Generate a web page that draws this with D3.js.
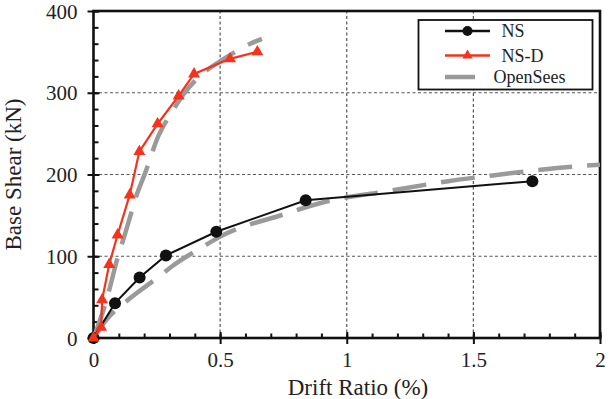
<!DOCTYPE html>
<html>
<head>
<meta charset="utf-8">
<script src="https://cdn.jsdelivr.net/npm/d3@7/dist/d3.min.js"></script>
<style>
  html, body { margin: 0; padding: 0; background: #fff; }
  svg { display: block; }
  svg text { font-family: "Liberation Serif", "Times New Roman", serif !important; fill: #222; }
</style>
</head>
<body>
<svg id="chart" width="613" height="399"></svg>
<script>
// ---- Data ----
const nsDrift = [0, 0.085, 0.182, 0.286, 0.485, 0.838, 1.733];
const nsShear = [0, 42.6, 74, 101, 130, 168.5, 191.8];

const nsdDrift = [0, 0.03, 0.034, 0.062, 0.095, 0.143, 0.181, 0.253, 0.336, 0.397, 0.539, 0.647];
const nsdShear = [0, 13, 46.6, 90, 126, 175, 228, 262, 296, 323, 341.5, 350];

const osNsDrift = [0, 0.05, 0.138, 0.256, 0.309, 0.434, 0.5, 0.749, 0.908, 1.159, 1.4, 1.607, 1.83, 2.0];
const osNsShear = [0, 22, 47, 74.5, 87.5, 112, 124, 151, 166, 179.5, 191.8, 200, 208, 212];

const osNsdDrift = [0, 0.05, 0.097, 0.126, 0.147, 0.164, 0.204, 0.256, 0.309, 0.355, 0.408, 0.513, 0.619, 0.665];
const osNsdShear = [0, 45, 100, 129, 151, 169, 202, 247, 276, 298, 317, 341, 360, 366];

const xTicks = [0, 0.5, 1, 1.5, 2];
const xTickLabels = ["0", "0.5", "1", "1.5", "2"];
const yTicks = [0, 100, 200, 300, 400];
const yTickLabels = ["0", "100", "200", "300", "400"];
const legendLabels = ["NS", "NS-D", "OpenSees"];

// ---- Layout ----
const svg = d3.select("#chart");
const W = 613, H = 399;
const m = { left: 93.5, top: 11, right: 13, bottom: 61 };
const x = d3.scaleLinear().domain([0, 2]).range([m.left, W - m.right]);
const y = d3.scaleLinear().domain([0, 400]).range([H - m.bottom, m.top]);

const red = "#f5331c";
const gray = "#9a9a9a";
const serif = "'Liberation Serif', 'Times New Roman', serif";

svg.append("defs").append("clipPath").attr("id", "clip")
  .append("rect").attr("x", x(0)).attr("y", y(400)).attr("width", x(2) - x(0)).attr("height", y(0) - y(400));

// grid
const grid = svg.append("g").attr("stroke", "#555").attr("stroke-width", 1.2).attr("stroke-dasharray", "3,2.5");
xTicks.slice(1, -1).forEach(t => grid.append("line").attr("x1", x(t)).attr("x2", x(t)).attr("y1", y(0)).attr("y2", y(400)));
yTicks.slice(1, -1).forEach(t => grid.append("line").attr("x1", x(0)).attr("x2", x(2)).attr("y1", y(t)).attr("y2", y(t)));

// axes via d3 axis
const xAxisMinor = d3.axisBottom(x).tickValues(d3.range(0, 2.0001, 0.1)).tickSize(-4.5).tickFormat("");
const xAxisMajor = d3.axisBottom(x).tickValues(xTicks).tickSize(6).tickFormat((d, i) => xTickLabels[i]);
const yAxisMinor = d3.axisLeft(y).tickValues(d3.range(0, 400.001, 20)).tickSize(-5).tickFormat("");
const yAxisMajor = d3.axisLeft(y).tickValues(yTicks).tickSize(6).tickFormat((d, i) => yTickLabels[i]);

function styleAxis(g) {
  g.attr("font-family", serif).attr("font-size", 21);
  g.select(".domain").remove();
  g.selectAll(".tick line").attr("stroke", "#111").attr("stroke-width", 2);
}
svg.append("g").attr("transform", `translate(0,${y(0)})`).call(xAxisMinor).call(styleAxis);
const gx = svg.append("g").attr("transform", `translate(0,${y(0)})`).call(xAxisMajor).call(styleAxis);
gx.selectAll(".tick line").attr("y1", -6);
gx.selectAll(".tick text").attr("font-size", 21).attr("y", 14).attr("dy", "0.71em")
  .attr("font-family", serif).attr("fill", "#222");

svg.append("g").attr("transform", `translate(${x(0)},0)`).call(yAxisMinor).call(styleAxis);
const gy = svg.append("g").attr("transform", `translate(${x(0)},0)`).call(yAxisMajor).call(styleAxis);
gy.selectAll(".tick line").attr("x1", 6);
gy.selectAll(".tick text").attr("font-size", 21).attr("x", -16).attr("dy", "0.34em")
  .attr("font-family", serif).attr("fill", "#222");

// frame
svg.append("rect").attr("x", x(0)).attr("y", y(400)).attr("width", x(2) - x(0)).attr("height", y(0) - y(400))
  .attr("fill", "none").attr("stroke", "#111").attr("stroke-width", 2.6);

// lines
const line = d3.line().x(d => x(d[0])).y(d => y(d[1]));
const smooth = d3.line().x(d => x(d[0])).y(d => y(d[1])).curve(d3.curveMonotoneX);
const nsData = nsDrift.map((d, i) => [d, nsShear[i]]);
const nsdData = nsdDrift.map((d, i) => [d, nsdShear[i]]);
const osNs = osNsDrift.map((d, i) => [d, osNsShear[i]]);
const osNsd = osNsdDrift.map((d, i) => [d, osNsdShear[i]]);

const plot = svg.append("g").attr("clip-path", "url(#clip)");
const plotFree = svg.append("g");

plotFree.append("path").datum(nsData).attr("d", line).attr("fill", "none").attr("stroke", "#111").attr("stroke-width", 2);
plotFree.selectAll("circle.ns").data(nsData).join("circle").attr("class", "ns")
  .attr("cx", d => x(d[0])).attr("cy", d => y(d[1])).attr("r", 6).attr("fill", "#111");

plotFree.append("path").datum(nsdData).attr("d", line).attr("fill", "none").attr("stroke", red).attr("stroke-width", 2.2);
const tri = d3.symbol().type(d3.symbolTriangle).size(62);
plotFree.selectAll("path.nsd").data(nsdData).join("path").attr("class", "nsd")
  .attr("transform", d => `translate(${x(d[0])},${y(d[1])})`).attr("d", tri).attr("fill", red);

[osNs, osNsd].forEach(dd => {
  plot.append("path").datum(dd).attr("d", smooth).attr("fill", "none").attr("stroke", gray)
    .attr("stroke-width", 4.5).attr("stroke-dasharray", "34,15");
});

// legend
const lg = svg.append("g");
lg.append("rect").attr("x", 418.5).attr("y", 20).attr("width", 174).attr("height", 69.5)
  .attr("fill", "#fff").attr("stroke", "#111").attr("stroke-width", 1.8);
const ly = [31, 55.5, 77];
lg.append("line").attr("x1", 445).attr("x2", 490).attr("y1", ly[0]).attr("y2", ly[0]).attr("stroke", "#111").attr("stroke-width", 2.5);
lg.append("circle").attr("cx", 467.5).attr("cy", ly[0]).attr("r", 5).attr("fill", "#111");
lg.append("line").attr("x1", 445).attr("x2", 490).attr("y1", ly[1]).attr("y2", ly[1]).attr("stroke", red).attr("stroke-width", 2.5);
lg.append("path").attr("transform", `translate(467.5,${ly[1]})`).attr("d", d3.symbol().type(d3.symbolTriangle).size(45)).attr("fill", red);
lg.append("line").attr("x1", 445).attr("x2", 475).attr("y1", ly[2]).attr("y2", ly[2]).attr("stroke", gray).attr("stroke-width", 4.5);
const lx = [501.5, 501.5, 493.5];
legendLabels.forEach((t, i) => {
  lg.append("text").attr("x", lx[i]).attr("y", ly[i]).attr("dy", "0.35em").attr("font-size", 18)
    .attr("font-family", serif).text(t);
});

// axis titles
svg.append("text").attr("x", 358).attr("y", 395).attr("text-anchor", "middle")
  .attr("font-family", serif).attr("font-size", 23).text("Drift Ratio (%)");
svg.append("text").attr("transform", `translate(21,${(y(0) + y(400)) / 2}) rotate(-90)`)
  .attr("text-anchor", "middle").attr("font-family", serif).attr("font-size", 23).text("Base Shear (kN)");
</script>
</body>
</html>
